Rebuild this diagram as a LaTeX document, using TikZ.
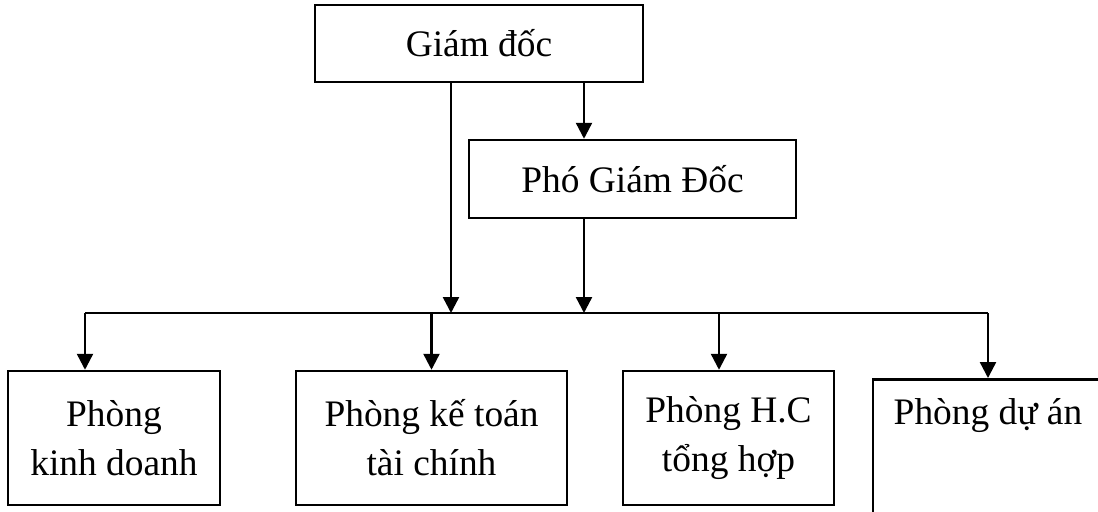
\documentclass[tikz,border=0pt]{standalone}
\usepackage{fontspec}
\setmainfont{Liberation Serif}
\usepackage{tikz}
\usetikzlibrary{arrows.meta,positioning,calc}
\tikzstyle{box}=[draw=black, line width=1.25pt, inner sep=0pt, align=center, font=\fontsize{18.7pt}{24.5pt}\selectfont]
\tikzstyle{arr}=[line width=1.2pt, -{Triangle[length=8pt,width=8pt]}]

\begin{document}
\begin{tikzpicture}[x=0.5pt, y=-0.5pt]
        %
        \path[use as bounding box] (0,0) rectangle (1098,511);
        \clip (0,0) rectangle (1098,511);
        % top
        \node at (479,43.5) [box, minimum width=164pt, minimum height=38.5pt] (gd) {Giám đốc};
        \node at (632.5,179) [box, minimum width=163.5pt, minimum height=39pt] (pgd) {Phó Giám Đốc};
        % bus
        \coordinate (busL) at (85,313);
        \coordinate (bus1) at (451,313);
        \coordinate (bus2) at (584,313);
        \coordinate (bus3) at (719,313);
        \coordinate (busR) at (988,313);
        % departments
        \node at (114,438) [box, minimum width=106pt, minimum height=67pt] (kd) {Phòng\\kinh doanh};
        \node at (431.5,438) [box, minimum width=135.5pt, minimum height=67pt] (kt) {Phòng kế toán\\tài chính};
        \node at (728.5,438) [box, minimum width=105.5pt, minimum height=67pt] (hc) {Phòng H.C\\tổng hợp};
        \node at (988,378) [box, anchor=north, minimum width=115pt, inner ysep=8.5pt, text height=14pt, text depth=60pt] (da) {Phòng dự án};
        %
        \draw[arr] (gd.south -| bus1) -- (bus1);
        \draw[arr] (gd.south -| bus2) -- (pgd.north -| bus2);
        \draw[arr] (pgd.south -| bus2) -- (bus2);
        \draw[line width=1.2pt] (busL) -- (busR);
        \draw[arr] (busL) -- (kd.north -| busL);
        \draw[arr] (kt.north |- busL) -- (kt.north);
        \draw[arr] (bus3) -- (hc.north -| bus3);
        \draw[arr] (busR) -- (da.north);
    \end{tikzpicture}
\end{document}
